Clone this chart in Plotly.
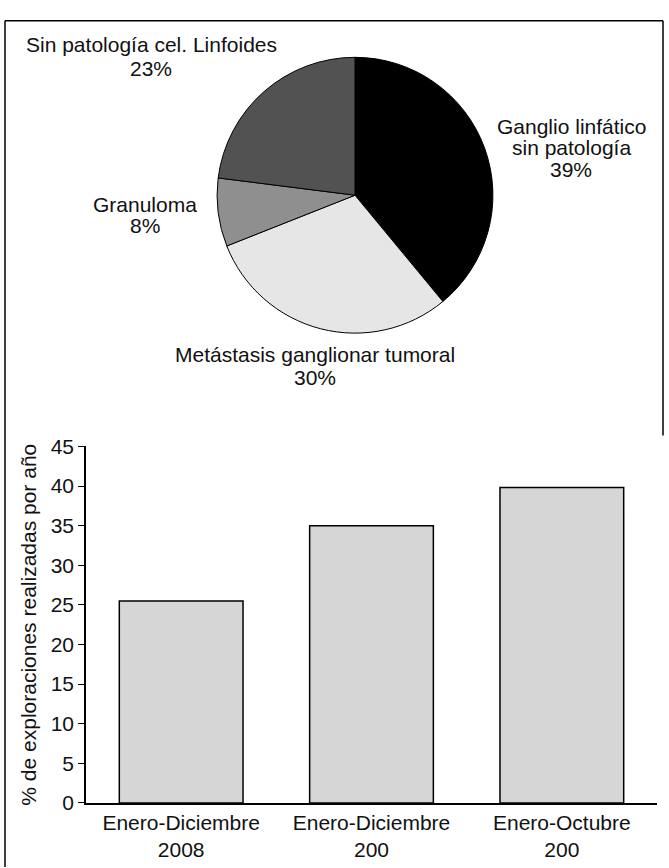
import plotly.graph_objects as go

# --- Pie: distribución de diagnósticos ---
pie_labels = [
    "Ganglio linfático<br>sin patología",
    "Metástasis ganglionar tumoral",
    "Granuloma",
    "Sin patología cel. Linfoides",
]
pie_values = [39, 30, 8, 23]
pie_colors = ["#000000", "#e6e6e6", "#8f8f8f", "#525252"]

# --- Barras: % de exploraciones por periodo ---
bar_categories = [
    "Enero-Diciembre<br>2008",
    "Enero-Diciembre<br>200",
    "Enero-Octubre<br>200",
]
bar_values = [25.5, 35.0, 39.8]
y_ticks = [0, 5, 10, 15, 20, 25, 30, 35, 40, 45]

W, H = 669, 868
ML, MR, MT, MB = 86, 12, 0, 65
PW, PH = W - ML - MR, H - MT - MB


def px_x(x):
    return (x - ML) / PW


def px_y(y):
    return 1 - (y - MT) / PH


FONT = "Liberation Sans, Arial, Helvetica, sans-serif"
FS = 21
TXT = "#111111"

fig = go.Figure()

fig.add_trace(go.Pie(
    labels=pie_labels,
    values=pie_values,
    marker=dict(colors=pie_colors, line=dict(color="#000000", width=1)),
    sort=False,
    direction="clockwise",
    rotation=0,
    textinfo="none",
    hoverinfo="label+percent",
    showlegend=False,
    domain=dict(x=[px_x(215), px_x(495)], y=[px_y(326), px_y(46)]),
))

fig.add_trace(go.Bar(
    x=bar_categories,
    y=bar_values,
    marker=dict(color="#d6d6d6", line=dict(color="#000000", width=1.5)),
    width=0.65,
    showlegend=False,
))

# slice labels: (centre x, first line y, line step) in pixels
label_pos = [(571, 116, 22), (315, 348, 23), (145, 195, 22), (151, 33, 24)]
total = sum(pie_values)
for lab, val, (lx, ly, step) in zip(pie_labels, pie_values, label_pos):
    lines = lab.split("<br>") + [f"{round(100 * val / total)}%"]
    for i, line in enumerate(lines):
        fig.add_annotation(
            x=px_x(lx), y=px_y(ly + i * step), xref="paper", yref="paper",
            text=line, showarrow=False, xanchor="center", yanchor="middle",
            font=dict(family=FONT, size=FS, color=TXT),
        )

# frame around the figure
frame = dict(color="#000000", width=1.5)
fig.add_shape(type="line", xref="paper", yref="paper",
              x0=px_x(5), x1=px_x(663), y0=px_y(9), y1=px_y(9), line=frame)
fig.add_shape(type="line", xref="paper", yref="paper",
              x0=px_x(5), x1=px_x(5), y0=px_y(9), y1=px_y(868), line=frame)
fig.add_shape(type="line", xref="paper", yref="paper",
              x0=px_x(663), x1=px_x(663), y0=px_y(9), y1=px_y(430), line=frame)

fig.update_layout(
    width=W, height=H,
    margin=dict(l=ML, r=MR, t=MT, b=MB),
    paper_bgcolor="white", plot_bgcolor="white",
    font=dict(family=FONT, size=FS, color=TXT),
    bargap=0.35,
    xaxis=dict(
        range=[-0.5, 2.5], showline=True, linecolor="#000000", linewidth=1.5,
        ticks="", showgrid=False, zeroline=False, fixedrange=True,
        tickfont=dict(family=FONT, size=FS, color=TXT),
    ),
    yaxis=dict(
        domain=[0, px_y(441)], range=[0, 45],
        tickvals=y_ticks, ticks="outside", ticklen=6, tickwidth=1.2,
        tickcolor="#000000", showline=True, linecolor="#000000", linewidth=1.5,
        showgrid=False, zeroline=False, fixedrange=True,
        tickfont=dict(family=FONT, size=FS, color=TXT),
        title=dict(text="% de exploraciones realizadas por año",
                   font=dict(family=FONT, size=FS, color=TXT),
                   standoff=8),
    ),
)

fig.write_html("out.html")
